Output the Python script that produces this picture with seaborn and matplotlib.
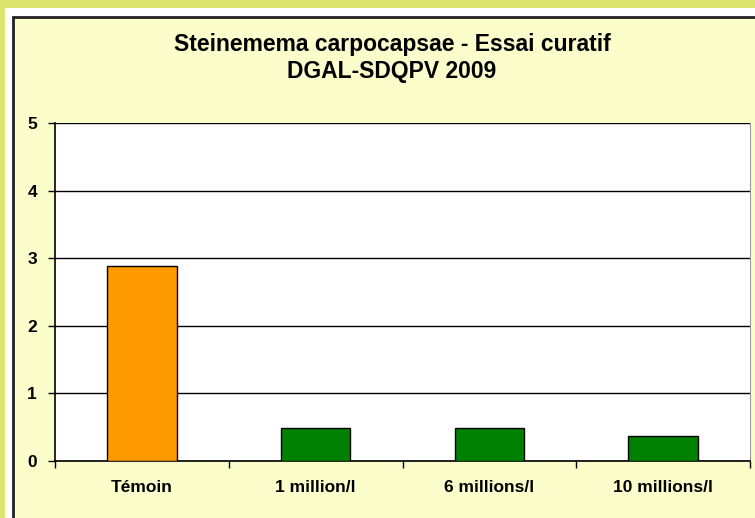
import numpy as np
import pandas as pd
import matplotlib.pyplot as plt
import seaborn as sns
from matplotlib.patches import Rectangle

# data
categories = ['Témoin', '1 million/l', '6 millions/l', '10 millions/l']
values = [2.88, 0.49, 0.49, 0.37]
bar_colors = ['#ff9900', '#008000', '#008000', '#008000']

df = pd.DataFrame({'Traitement': categories, 'Valeur': values})

sns.set_style('white')
plt.rcParams['font.family'] = ['Liberation Sans', 'DejaVu Sans']
plt.rcParams['text.color'] = 'black'
plt.rcParams['xtick.color'] = 'black'
plt.rcParams['ytick.color'] = 'black'

fig = plt.figure(figsize=(7.55, 5.18), dpi=100, facecolor='#dce66e')
W, H = 755, 518

# white strip and pale yellow chart panel with dark frame (behind the axes)
fig.patches.append(Rectangle((5 / W, 0), 1, 1 - 8 / H, transform=fig.transFigure,
                             facecolor='white', edgecolor='none', zorder=-2))
fig.patches.append(Rectangle((13 / W, -0.05), 1, 1 - 17 / H + 0.05, transform=fig.transFigure,
                             facecolor='#fbfdcb', edgecolor='#222222', linewidth=2, zorder=-1))

ax = fig.add_axes([55 / W, 1 - 461 / H, 695 / W, 338 / H])
ax.set_facecolor('white')

sns.barplot(data=df, x='Traitement', y='Valeur', hue='Traitement',
            palette=bar_colors, saturation=1, width=0.4, edgecolor='black',
            linewidth=1, legend=False, ax=ax, zorder=3)

ax.set_ylim(0, 5)
ax.set_xlim(-0.5, 3.5)
ax.set_yticks(range(6))
ax.grid(axis='y', color='black', linewidth=1, zorder=0)
ax.set_axisbelow(True)
ax.set_xlabel('')
ax.set_ylabel('')

# ticks between categories on the x axis
ax.set_xticks(np.arange(-0.5, 4, 1), minor=False)
ax.set_xticklabels([])
ax.set_xticks(range(4), minor=True)
ax.set_xticklabels(categories, minor=True, fontsize=12.5, fontweight='bold')
ax.tick_params(axis='x', which='major', bottom=True, direction='out',
               length=5, width=1, color='black')
ax.tick_params(axis='x', which='minor', bottom=False, length=0, pad=14)
ax.tick_params(axis='y', left=True, direction='out', length=5, width=1,
               color='black', labelsize=12.5, pad=8)
for lbl in ax.get_yticklabels():
    lbl.set_fontweight('bold')

for side in ['left', 'bottom']:
    ax.spines[side].set_color('black')
    ax.spines[side].set_linewidth(1.2)
ax.spines['top'].set_visible(False)
ax.spines['right'].set_color('#999999')

fig.text(392 / W, 1 - 45 / H, 'Steinemema carpocapsae - Essai curatif',
         ha='center', va='center', fontsize=16.5, fontweight='bold')
fig.text(392 / W, 1 - 71 / H, 'DGAL-SDQPV 2009',
         ha='center', va='center', fontsize=16.5, fontweight='bold')

fig.savefig('out.png', dpi=100, facecolor=fig.get_facecolor())
